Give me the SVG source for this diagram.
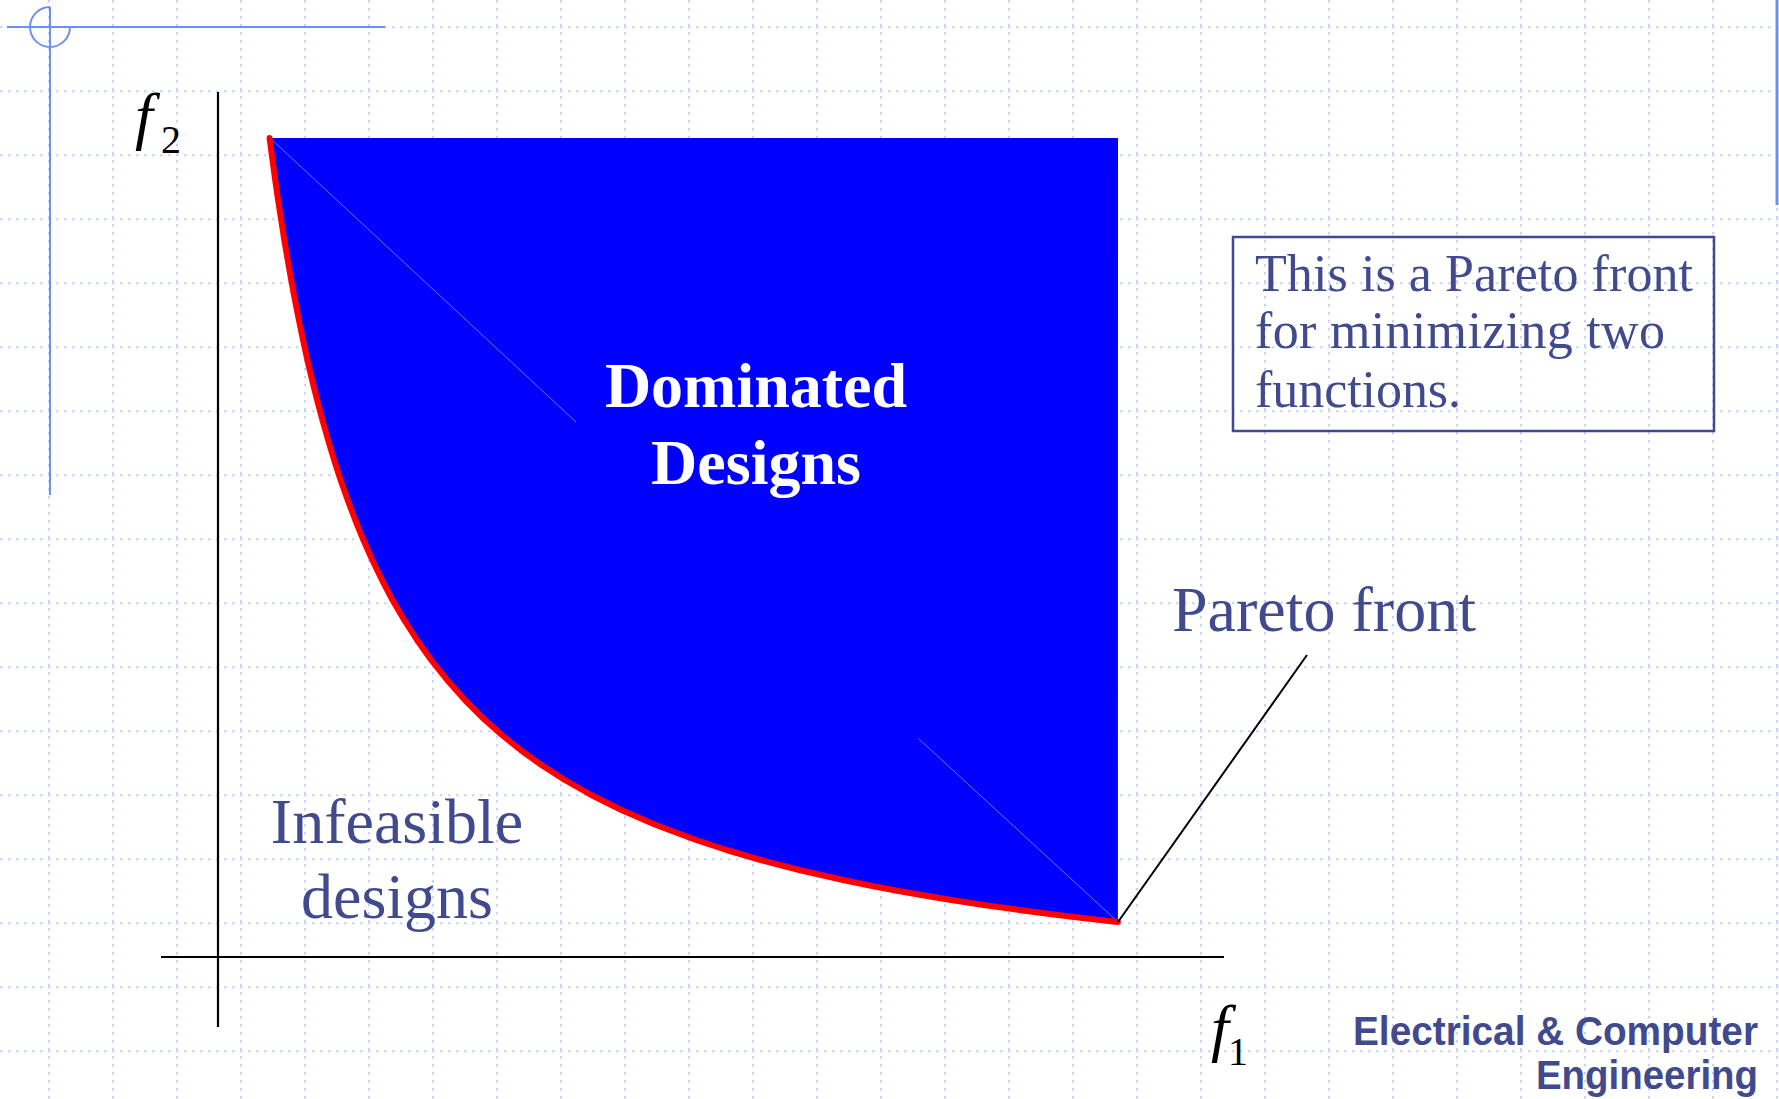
<svg xmlns="http://www.w3.org/2000/svg" width="1779" height="1099" viewBox="0 0 1779 1099">
<defs>
<style>
.grid{fill:none;stroke:#c8d2f8;stroke-width:2;stroke-dasharray:2.5 5.5}
.deco{fill:none;stroke:#6d8ef2;stroke-width:2}
.axis{stroke:#000;stroke-width:2.2;fill:none}
.lbl{font-family:"Liberation Serif","Times New Roman",serif;fill:#404a8c}
.math{font-family:"Liberation Serif","Times New Roman",serif;fill:#000}
.brand{font-family:"Liberation Sans",Arial,sans-serif;font-weight:bold;fill:#404a8c;font-size:40px;text-anchor:end}
</style>
</defs>
<rect width="1779" height="1099" fill="#ffffff"/>
<g id="grid">
<path class="grid" d="M49,0V1099M113,0V1099M177,0V1099M241,0V1099M305,0V1099M369,0V1099M433,0V1099M497,0V1099M561,0V1099M625,0V1099M689,0V1099M753,0V1099M817,0V1099M881,0V1099M945,0V1099M1009,0V1099M1073,0V1099M1137,0V1099M1201,0V1099M1265,0V1099M1329,0V1099M1393,0V1099M1457,0V1099M1521,0V1099M1585,0V1099M1649,0V1099M1713,0V1099M1777,0V1099"/>
<path class="grid" d="M0,27.3H1779M0,91.3H1779M0,155.3H1779M0,219.3H1779M0,283.3H1779M0,347.3H1779M0,411.3H1779M0,475.3H1779M0,539.3H1779M0,603.3H1779M0,667.3H1779M0,731.3H1779M0,795.3H1779M0,859.3H1779M0,923.3H1779M0,987.3H1779M0,1051.3H1779"/>
</g>
<g id="decoration">
<path class="deco" d="M7,27H385M50,7V495"/>
<path class="deco" d="M50,7A20,20 0 1 0 70,27"/>
<path d="M1777,0V205" stroke="#6d8ef2" stroke-width="3" fill="none"/>
</g>
<g id="dominated-region">
<path d="M269.6,138 L272.5,160 L275.2,180 L278.1,200 L281.2,220 L284.3,240 L287.7,260 L291.2,280 L294.9,300 L298.9,320 L303,340 L307.4,360 L312.1,380 L317.1,400 L322.4,420 L328.1,440 L334.1,460 L340.6,480 L347.7,500 L355.2,520 L363.4,540 L372.3,560 L382,580 L392.5,600 L404.2,620 L417,640 L431.2,660 L447.1,680 L464.9,700 L485,720 L501.9,735 L520.6,750 L541.5,765 L564.9,780 L591.3,795 L621.4,810 L656,825 L696.1,840 L726.6,850 L760.8,860 L799.3,870 L843.1,880 L867.3,885 L893.2,890 L921.2,895 L951.3,900 L983.9,905 L1019.2,910 L1049.8,914 L1082.6,918 L1117.9,922 L1118,138 Z" fill="#0000ff"/>
<path d="M270,138L576,422M919,739L1118,922" stroke="#5b7bff" stroke-width="1" fill="none"/>
<text x="756" y="407" text-anchor="middle" font-family="'Liberation Serif','Times New Roman',serif" font-weight="bold" font-size="64" fill="#ffffff">Dominated</text>
<text x="756" y="484" text-anchor="middle" font-family="'Liberation Serif','Times New Roman',serif" font-weight="bold" font-size="64" fill="#ffffff">Designs</text>
</g>
<g id="pareto-front">
<path d="M269.6,138 L272.5,160 L275.2,180 L278.1,200 L281.2,220 L284.3,240 L287.7,260 L291.2,280 L294.9,300 L298.9,320 L303,340 L307.4,360 L312.1,380 L317.1,400 L322.4,420 L328.1,440 L334.1,460 L340.6,480 L347.7,500 L355.2,520 L363.4,540 L372.3,560 L382,580 L392.5,600 L404.2,620 L417,640 L431.2,660 L447.1,680 L464.9,700 L485,720 L501.9,735 L520.6,750 L541.5,765 L564.9,780 L591.3,795 L621.4,810 L656,825 L696.1,840 L726.6,850 L760.8,860 L799.3,870 L843.1,880 L867.3,885 L893.2,890 L921.2,895 L951.3,900 L983.9,905 L1019.2,910 L1049.8,914 L1082.6,918 L1117.9,922" fill="none" stroke="#ff0000" stroke-width="6" stroke-linejoin="round" stroke-linecap="round"/>
</g>
<g id="axes">
<path class="axis" d="M218,92V1027"/>
<path class="axis" d="M161,957H1224"/>
</g>
<g id="axis-f2">
<text class="math" x="135" y="137" font-size="64" font-style="italic">f</text>
<text class="math" x="161" y="153" font-size="40">2</text>
</g>
<g id="axis-f1">
<text class="math" x="1211" y="1049" font-size="64" font-style="italic">f</text>
<text class="math" x="1228" y="1065" font-size="40">1</text>
</g>
<g id="infeasible">
<text class="lbl" x="397" y="843" font-size="64" text-anchor="middle">Infeasible</text>
<text class="lbl" x="397" y="918" font-size="64" text-anchor="middle">designs</text>
</g>
<g id="pareto-label">
<text class="lbl" x="1172" y="631" font-size="64">Pareto front</text>
</g>
<g id="connectors">
<path d="M1307,655L1118,922" stroke="#000" stroke-width="2" fill="none"/>
</g>
<g id="note">
<rect x="1233" y="237" width="481" height="194" fill="none" stroke="#404a8c" stroke-width="2.5"/>
<text class="lbl" x="1255" y="291" font-size="52" textLength="438" lengthAdjust="spacing">This is a Pareto front</text>
<text class="lbl" x="1255" y="348" font-size="52" textLength="410" lengthAdjust="spacing">for minimizing two</text>
<text class="lbl" x="1255" y="407" font-size="52" textLength="206" lengthAdjust="spacing">functions.</text>
</g>
<g id="brand">
<text class="brand" x="1758" y="1045" textLength="405" lengthAdjust="spacingAndGlyphs">Electrical &amp; Computer</text>
<text class="brand" x="1758" y="1089" textLength="222" lengthAdjust="spacingAndGlyphs">Engineering</text>
</g>
</svg>
